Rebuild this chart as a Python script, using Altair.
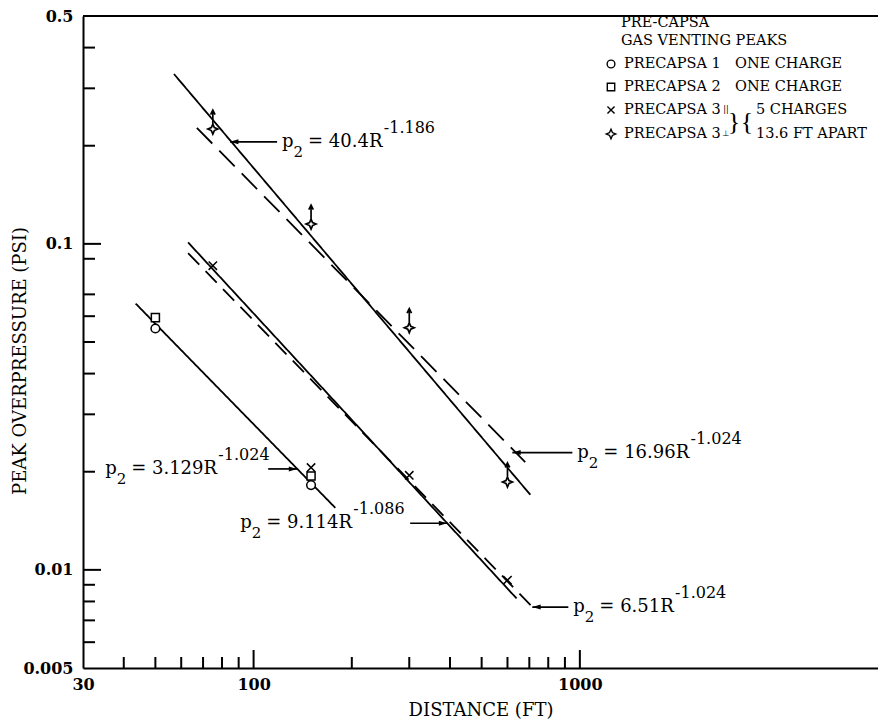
import altair as alt
import pandas as pd

FONT = "DejaVu Serif"

# ---------------- data ----------------
# PRECAPSA 1 (open circle), PRECAPSA 2 (open square)
p1_r = [50, 150]
p1_p = [0.055, 0.0182]
p2_r = [50, 150]
p2_p = [0.0594, 0.0194]
# PRECAPSA 3 parallel (x) and perpendicular (star with up-arrow)
p3x_r = [75, 150, 300, 600]
p3x_p = [0.0857, 0.0206, 0.0195, 0.0093]
p3c_r = [75, 150, 300, 600]
p3c_p = [0.225, 0.115, 0.0553, 0.0186]

# fitted straight lines (end points)
fit_id = ["a", "b", "c", "d", "e"]
fit_r_start = [57, 67, 63, 63, 43.5]
fit_p_start = [0.332, 0.227, 0.101, 0.0936, 0.0656]
fit_r_end = [705, 680, 640, 715, 178]
fit_p_end = [0.0170, 0.0214, 0.00817, 0.0077, 0.0155]

# equation labels: coefficient, exponent, arrow tip (data units)
eq_coef = ["40.4", "16.96", "9.114", "6.51", "3.129"]
eq_expo = ["-1.186", "-1.024", "-1.086", "-1.024", "-1.024"]
eq_tip_r = [84.7, 621, 392, 715, 136]
eq_tip_p = [0.2056, 0.0229, 0.0139, 0.00769, 0.0204]

# axes
x_labels = [30, 100, 1000]
y_labels = [0.005, 0.01, 0.1, 0.5]
x_major = [100, 1000]
x_minor = [40, 50, 60, 70, 80, 90, 200, 300, 400, 500, 600, 700, 800, 900]
y_major = [0.01, 0.1]
y_minor = [0.006, 0.007, 0.008, 0.009, 0.02, 0.03, 0.04, 0.05, 0.06, 0.07,
           0.09, 0.2, 0.3, 0.4]
y_title = "PEAK OVERPRESSURE (PSI)"
x_title = "DISTANCE (FT)"

legend_title = ["PRE-CAPSA", "GAS VENTING PEAKS"]
legend_names = ["PRECAPSA 1", "PRECAPSA 2", "PRECAPSA 3", "PRECAPSA 3"]
legend_notes = ["ONE CHARGE", "ONE CHARGE", "5 CHARGES", "13.6 FT APART"]
legend_marks = ["||", "\u22a5"]

# ---------------- layout / style ----------------
W, H = 795, 652
xs = alt.Scale(type="log", domain=[30, 8200])
ys = alt.Scale(type="log", domain=[0.005, 0.5])

STAR = "M0,-1L0.3,-0.3L1,0L0.3,0.3L0,1L-0.3,0.3L-1,0L-0.3,-0.3Z"
STAR_ARROW = STAR + "M0,-1L0,-3.7M-0.45,-2.9L0,-3.8L0.45,-2.9"
XMARK = "M-1,-1L1,1M1,-1L-1,1"
HEAD_L = "M0,0L2,-0.6L2,0.6Z"
HEAD_R = "M0,0L-2,-0.6L-2,0.6Z"

EM = {str(d): 0.636 for d in range(10)}
EM.update({".": 0.318, " ": 0.318, "=": 0.838, "R": 0.770, "-": 0.338, "p": 0.642})


def tw(s, size):
    return sum(EM.get(c, 0.65) for c in s) * size


x_axis = alt.Axis(values=x_labels, format="~g", ticks=False, grid=False,
                  domainColor="black", domainWidth=2, labelFont=FONT,
                  labelFontSize=16, labelFontWeight="bold", labelColor="black",
                  labelPadding=8, labelFlush=False, title=x_title,
                  titleFont=FONT, titleFontSize=18, titleFontWeight="normal",
                  titleColor="black", titlePadding=9)
y_axis = alt.Axis(values=y_labels, format="~g", ticks=False, grid=False,
                  domainColor="black", domainWidth=2, labelFont=FONT,
                  labelFontSize=16, labelFontWeight="bold", labelColor="black",
                  labelPadding=10, title="")


def X(field):
    return alt.X(field, scale=xs, axis=x_axis)


def Y(field):
    return alt.Y(field, scale=ys, axis=y_axis)


layers = []

# fitted lines
rows = []
for i, f in enumerate(fit_id):
    rows.append({"fit": f, "r": fit_r_start[i], "p": fit_p_start[i], "o": 0})
    rows.append({"fit": f, "r": fit_r_end[i], "p": fit_p_end[i], "o": 1})
lines = alt.Chart(pd.DataFrame(rows)).mark_line(color="black", strokeWidth=1.8).encode(
    x=X("r:Q"), y=Y("p:Q"),
    detail="fit:N",
    order="o:Q",
    strokeDash=alt.StrokeDash("fit:N", legend=None, scale=alt.Scale(
        domain=fit_id, range=[[1, 0], [22, 10], [1, 0], [16, 9], [1, 0]])),
)
layers.append(lines)


# inward ticks
def xticks(vals, length):
    return alt.Chart(pd.DataFrame({"r": vals})).mark_rule(color="black", strokeWidth=2).encode(
        x=X("r:Q"), y=alt.value(H), y2=alt.value(H - length))


def yticks(vals, length):
    return alt.Chart(pd.DataFrame({"p": vals})).mark_rule(color="black", strokeWidth=2).encode(
        y=Y("p:Q"), x=alt.value(0), x2=alt.value(length))


layers += [xticks(x_major, 18), xticks(x_minor, 11), yticks(y_major, 18), yticks(y_minor, 12)]

# top frame line
layers.append(alt.Chart(pd.DataFrame({"v": [0]})).mark_rule(color="black", strokeWidth=2).encode(
    x=alt.value(0), x2=alt.value(W), y=alt.value(0)))


# data points
def pts(r, p, shape, size, sw=1.5):
    return alt.Chart(pd.DataFrame({"r": r, "p": p})).mark_point(
        shape=shape, size=size, filled=True, fill="white", stroke="black",
        strokeWidth=sw, opacity=1).encode(x=X("r:Q"), y=Y("p:Q"))


layers += [pts(p1_r, p1_p, "circle", 75), pts(p2_r, p2_p, "square", 65),
           pts(p3x_r, p3x_p, XMARK, 70, 1.5), pts(p3c_r, p3c_p, STAR_ARROW, 100, 1.7)]

# equation annotations
shaft = [47, 60, -37, 36, -29]
p_dx = [52, 65, -207, 41, -192]
MAIN, SUP, SUB = 18, 16, 15
for i in range(len(eq_coef)):
    base = alt.Chart(pd.DataFrame({"r": [eq_tip_r[i]], "p": [eq_tip_p[i]]})).encode(
        x=X("r:Q"), y=Y("p:Q"))
    layers.append(base.mark_rule(color="black", strokeWidth=1.7, x2Offset=shaft[i]).encode(x2="r:Q"))
    layers.append(base.mark_point(shape=HEAD_L if shaft[i] > 0 else HEAD_R, size=70,
                                  filled=True, color="black", opacity=1))
    main = "= " + eq_coef[i] + "R"
    d0 = p_dx[i]
    tk = dict(font=FONT, color="black", align="left", baseline="alphabetic")
    layers.append(base.mark_text(text="p", dx=d0, dy=5, fontSize=MAIN, **tk))
    layers.append(base.mark_text(text="2", dx=d0 + 11.5, dy=15, fontSize=SUB, **tk))
    layers.append(base.mark_text(text=main, dx=d0 + 26, dy=5, fontSize=MAIN, **tk))
    layers.append(base.mark_text(text=eq_expo[i], dx=d0 + 26 + tw(main, MAIN) + 1, dy=-9,
                                 fontSize=SUP, **tk))


# free text (legend block and the vertical axis title)
def label(s, x, y, size=14.5, align="left", font=FONT, angle=0):
    return alt.Chart(pd.DataFrame({"t": [s]})).mark_text(
        font=font, fontSize=size, color="black", align=align, baseline="middle",
        angle=angle).encode(text="t:N", x=alt.value(x), y=alt.value(y))


layers.append(label(y_title, -62, 345, size=18, align="center", angle=270))

LX = 538
layers.append(label(legend_title[0], LX, 7))
layers.append(label(legend_title[1], LX, 25))
row_y = [48, 71, 94, 118]
for k in range(4):
    layers.append(label(legend_names[k], LX + 3, row_y[k]))
layers.append(label(legend_notes[0], 652, row_y[0]))
layers.append(label(legend_notes[1], 652, row_y[1]))
layers.append(label(legend_notes[2], 673, row_y[2]))
layers.append(label(legend_notes[3], 673, row_y[3]))
layers.append(label(legend_marks[0], 643, row_y[2], size=8, align="center", font="DejaVu Sans"))
layers.append(label(legend_marks[1], 643, row_y[3], size=8, align="center", font="DejaVu Sans"))
layers.append(label("}", 651, 106, size=26, align="center", font="Liberation Serif"))
layers.append(label("{", 664, 106, size=26, align="center", font="Liberation Serif"))


def key(shape, y, size, sw=1.4):
    return alt.Chart(pd.DataFrame({"t": [0]})).mark_point(
        shape=shape, size=size, filled=False, color="black", strokeWidth=sw, opacity=1).encode(
        x=alt.value(528), y=alt.value(y))


layers += [key("circle", row_y[0], 60), key("square", row_y[1], 55),
           key(XMARK, row_y[2], 50), key(STAR, row_y[3], 90)]

chart = alt.layer(*layers).properties(
    width=W, height=H,
    padding={"left": 75, "top": 8, "right": 0, "bottom": 56},
    autosize=alt.AutoSizeParams(type="none"),
).configure_view(stroke=None).configure(background="white")

chart.save("out.html", embed_options={"renderer": "svg", "actions": False})
